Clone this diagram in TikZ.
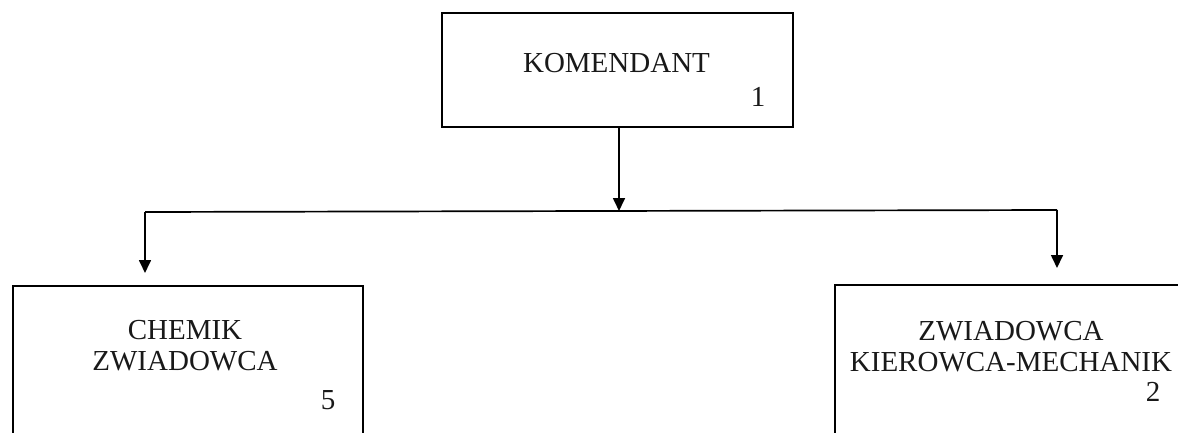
\documentclass[tikz,border=0pt]{standalone}
\usepackage{fontspec}
\setmainfont{Liberation Serif}
\usetikzlibrary{arrows.meta}
\begin{document}
\begin{tikzpicture}[x=1pt,y=-1pt,
  box/.style={draw=black, line width=1.7pt, fill=none, inner sep=0pt},
  lbl/.style={inner sep=0pt, font=\fontsize{29}{31}\selectfont, align=center, text=black!90},
  conn/.style={line width=1.7pt, draw=black},
  arr/.style={conn, -{Triangle[length=13pt,width=12pt]}}]
\useasboundingbox (0,0) rectangle (1178,433);
\clip (0,0) rectangle (1178,433);
\fill[white] (0,0) rectangle (1178,433);
% boxes
\node[box, minimum width=351pt, minimum height=114pt] (top) at (617.5,70) {};
\node[box, minimum width=350pt, minimum height=190pt] (left) at (188,381) {};
\node[box, minimum width=352pt, minimum height=190pt] (right) at (1011,380) {};
% texts
\node[lbl] (t1) at (616.5,63) {KOMENDANT};
\node[lbl] (n1) at (758,97) {1};
\node[lbl] (t5) at (185,346) {CHEMIK\\ZWIADOWCA};
\node[lbl] (n5) at (328,400) {5};
\node[lbl] (t2) at (1011,347) {ZWIADOWCA\\KIEROWCA-MECHANIK};
\node[lbl] (n2) at (1153,392) {2};
% connectors
\coordinate (j) at (619,211);
\coordinate (jl) at (145,212);
\coordinate (jr) at (1057,210);
\coordinate (el) at (145,273);
\coordinate (er) at (1057,268);
\draw[arr] (top.south -| j) -- (j);
\draw[conn] (jl) -- (jr);
\draw[arr] (jl) -- (el);
\draw[arr] (jr) -- (er);
\end{tikzpicture}
\end{document}
